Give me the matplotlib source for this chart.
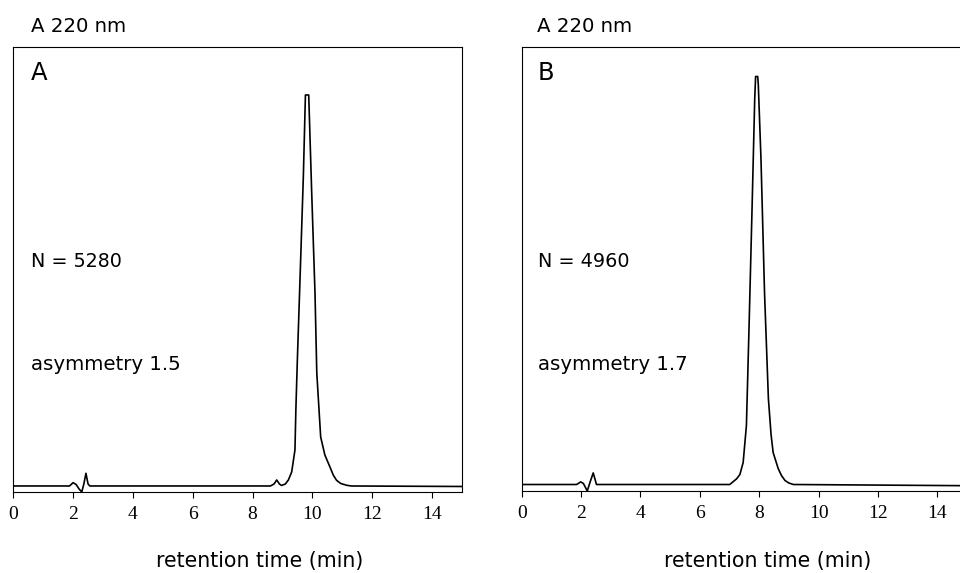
# chromatogram_panels.py
# two HPLC traces (A 220 nm), peak shape comparison
import matplotlib
matplotlib.use("Agg")
import matplotlib.pyplot as plt

SANS = "DejaVu Sans"
SERIF = "Liberation Serif"

XTICKS = [0, 2, 4, 6, 8, 10, 12, 14]

# panel A, signal in arbitrary units above baseline
time_a = [0.0, 1.88, 2.0, 2.1, 2.2, 2.29, 2.36, 2.43, 2.5, 2.56, 8.6, 8.72,
          8.81, 8.9, 8.97, 9.1, 9.2, 9.31, 9.42, 9.45, 9.50, 9.61, 9.70,
          9.77, 9.88, 9.98, 10.09, 10.15, 10.28, 10.42, 10.59, 10.7, 10.81,
          10.95, 11.15, 11.3, 15.0]
signal_a = [0, 0, 3.3, 1.5, -3, -6, 2, 12.7, 2, 0, 0, 2,
            6, 2, 0.5, 2, 6, 14, 36, 76, 126, 226, 309,
            391, 391, 293, 193, 113, 49, 31, 19, 11, 5.7,
            2.5, 0.7, 0, -0.5]

# panel B
time_b = [0.0, 1.85, 1.99, 2.08, 2.21, 2.3, 2.41, 2.52, 7.01, 7.24, 7.35,
          7.46, 7.57, 7.66, 7.76, 7.85, 7.88, 7.95, 7.97, 8.06, 8.18, 8.31,
          8.40, 8.47, 8.64, 8.75, 8.87, 9.0, 9.15, 15.0]
signal_b = [0, 0, 2.6, 1, -6.5, 2, 11.6, 0, 0, 5.7, 10,
            22, 59, 159, 276, 386, 408, 408, 400, 326, 192, 86,
            50, 32, 16, 9, 4, 1.5, 0, -1.2]

labels = ["A", "B"]
plate_counts = ["N = 5280", "N = 4960"]
asym_text = ["asymmetry 1.5", "asymmetry 1.7"]


def setup_axis(ax, ylim):
    ax.set_xlim(0, 15)
    ax.set_ylim(*ylim)
    ax.set_xticks(XTICKS)
    ax.set_xticklabels([str(t) for t in XTICKS], fontfamily=SERIF, fontsize=14)
    ax.set_yticks([])
    ax.tick_params(axis="x", direction="out", length=4, width=0.8, pad=6)
    for sp in ax.spines.values():
        sp.set_linewidth(0.8)


fig = plt.figure(figsize=(9.6, 5.73), dpi=100)

ax_a = fig.add_axes([0.01385, 0.1414, 0.4672, 0.7766])
ax_b = fig.add_axes([0.5434, 0.1431, 0.4639, 0.7749])

ax_a.plot(time_a, signal_a, color="black", lw=1.2)
ax_b.plot(time_b, signal_b, color="black", lw=1.2)
setup_axis(ax_a, (-6, 439))
setup_axis(ax_b, (-6.5, 437.5))

# header texts
fig.text(0.032, 0.9447, "A 220 nm", fontfamily=SANS, fontsize=14.2, va="baseline")
fig.text(0.5590, 0.9447, "A 220 nm", fontfamily=SANS, fontsize=14.2, va="baseline")

xs = [0.032, 0.5600]
for i in range(2):
    fig.text(xs[i], 0.8604, labels[i], fontfamily=SANS, fontsize=17.5, va="baseline")
    fig.text(xs[i], 0.5335, plate_counts[i], fontfamily=SANS, fontsize=13.8, va="baseline")
    fig.text(xs[i], 0.3543, asym_text[i], fontfamily=SANS, fontsize=14.2, va="baseline")

fig.text(0.27, 0.011, "retention time (min)", fontfamily=SANS, fontsize=14.8,
         ha="center", va="baseline")
fig.text(0.80, 0.011, "retention time (min)", fontfamily=SANS, fontsize=14.8,
         ha="center", va="baseline")

fig.savefig("out.png", dpi=100)
